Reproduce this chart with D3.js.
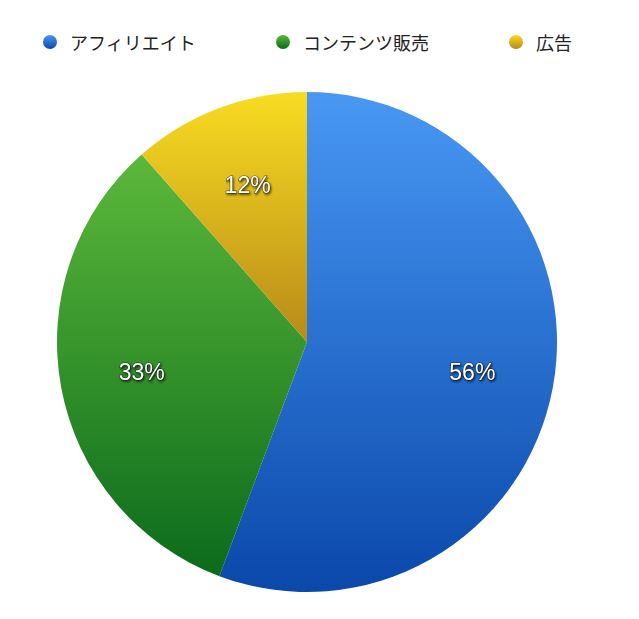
<!DOCTYPE html>
<html><head><meta charset="utf-8">
<script src="https://cdn.jsdelivr.net/npm/d3@7"></script>
<style>html,body{margin:0;padding:0;background:#fff;}svg{display:block;}</style>
</head><body>
<script>
const categories = ["アフィリエイト", "コンテンツ販売", "広告"];
const values = [55.7, 32.8, 11.5];
const labels = ["56%", "33%", "12%"];
const topColors = ["#4898f4", "#5cb83a", "#f8dc22"];
const bottomColors = ["#0a48aa", "#0b6b1c", "#b88a18"];

const W = 639, H = 619;
const cx = 307, cy = 342, R = 250;

const svg = d3.select("body").append("svg").attr("width", W).attr("height", H);
const defs = svg.append("defs");
categories.forEach((c, i) => {
  const g = defs.append("linearGradient").attr("id", "g" + i)
    .attr("x1", 0).attr("y1", 0).attr("x2", 0).attr("y2", 1);
  g.append("stop").attr("offset", 0).attr("stop-color", topColors[i]);
  g.append("stop").attr("offset", 1).attr("stop-color", bottomColors[i]);
});
const f = defs.append("filter").attr("id", "sh").attr("x", "-20%").attr("y", "-20%").attr("width", "140%").attr("height", "140%");
f.append("feDropShadow").attr("dx", 1).attr("dy", 1.5).attr("stdDeviation", 1).attr("flood-color", "#000").attr("flood-opacity", 0.7);

const pie = d3.pie().sort(null).value(d => d)(values);
const arc = d3.arc().innerRadius(0).outerRadius(R);
const labelArc = d3.arc().innerRadius(168).outerRadius(168);

const g = svg.append("g").attr("transform", `translate(${cx},${cy})`);
g.selectAll("path.slice").data(pie).join("path")
  .attr("class", "slice")
  .attr("d", arc)
  .attr("fill", (d, i) => `url(#g${i})`);

g.selectAll("text.lbl").data(pie).join("text")
  .attr("class", "lbl")
  .attr("transform", d => `translate(${labelArc.centroid(d)})`)
  .attr("text-anchor", "middle")
  .attr("dominant-baseline", "central")
  .attr("font-family", "'Liberation Sans', Arial, sans-serif")
  .attr("font-size", 23)
  .attr("fill", "#fff")
  .attr("stroke", "rgba(0,0,0,0.55)")
  .attr("stroke-width", 1.2)
  .attr("paint-order", "stroke")
  .attr("filter", "url(#sh)")
  .text((d, i) => labels[i]);

// legend
const legendX = d3.scalePoint().domain(categories).range([50, 516]);
const lg = svg.append("g");
categories.forEach((c, i) => {
  const x = legendX(c);
  lg.append("circle").attr("cx", x).attr("cy", 42).attr("r", 7).attr("fill", `url(#g${i})`);
  lg.append("text").attr("x", x + 20).attr("y", 42)
    .attr("dominant-baseline", "central")
    .attr("font-family", "'Noto Sans CJK JP', sans-serif")
    .attr("font-size", 18)
    .attr("fill", "#222")
    .text(c);
});
</script>
</body></html>
